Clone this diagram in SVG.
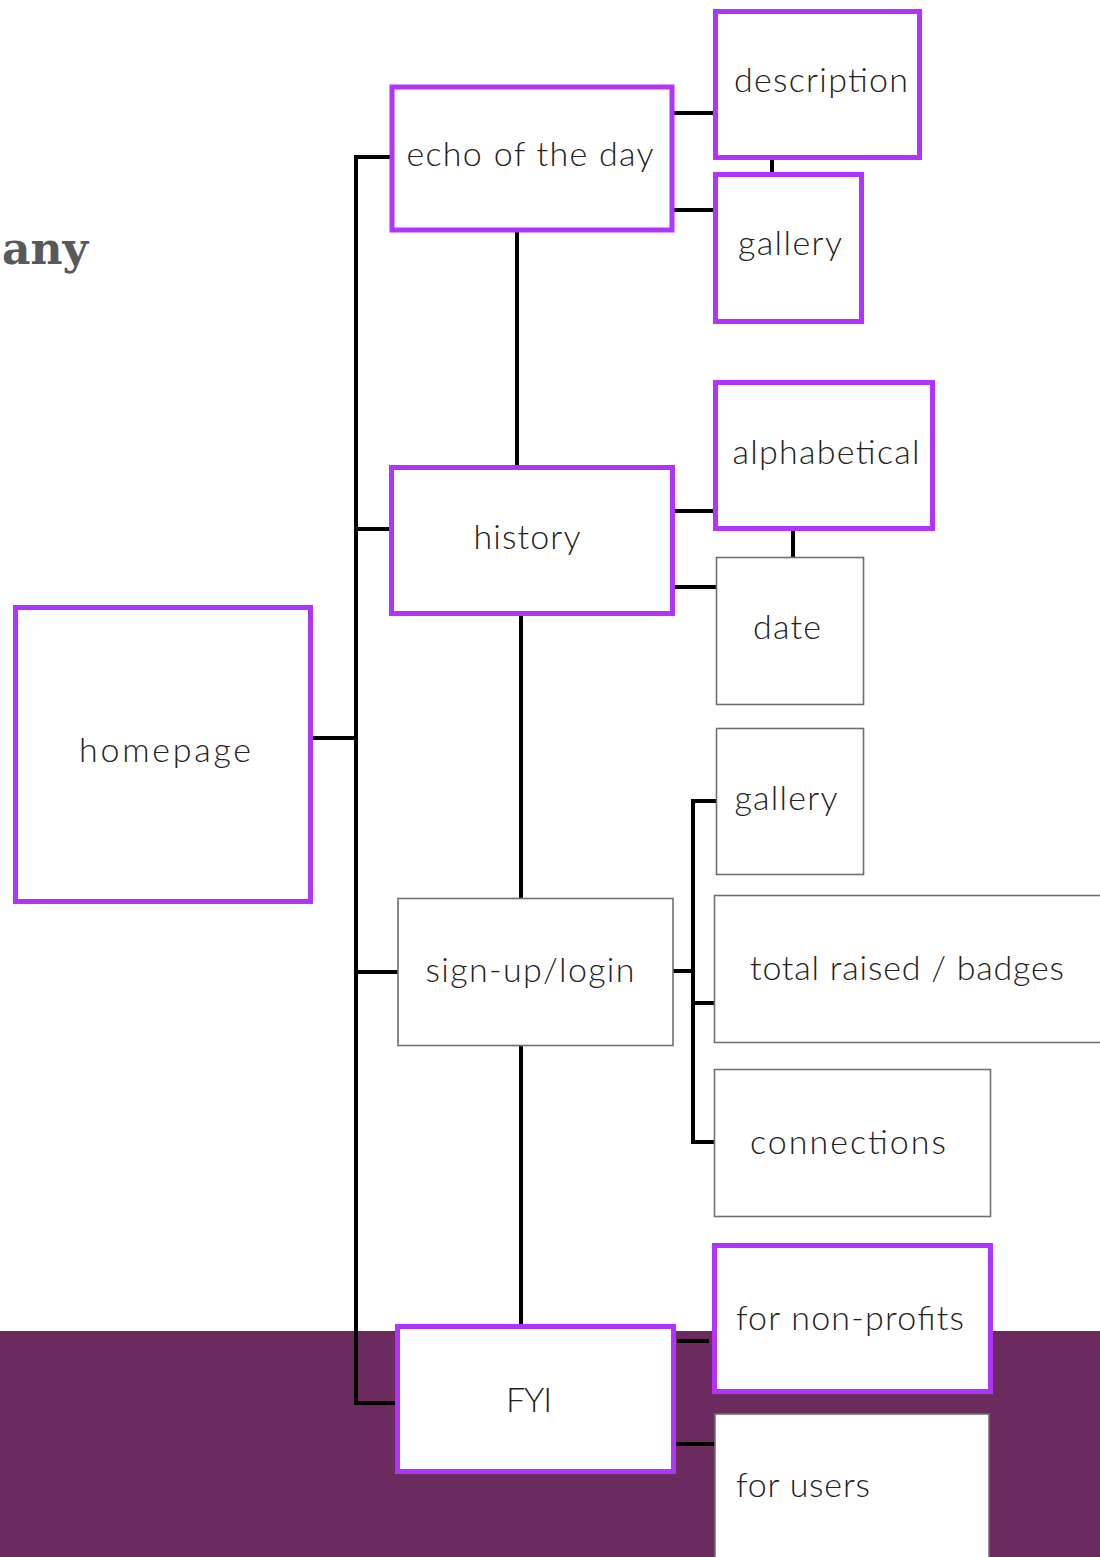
<svg xmlns="http://www.w3.org/2000/svg" width="1100" height="1557" viewBox="0 0 1100 1557">
<style>
.pb{fill:#fff;stroke:#B233FB;stroke-width:5}
.gb{fill:#fff;stroke:#707070;stroke-width:1.6}
.t{font-family:Lato,"Open Sans","Liberation Sans",sans-serif;font-weight:300;font-size:34px;fill:#222;text-anchor:middle}
.c{stroke:#000;stroke-width:4;fill:none}
</style>
<rect x="0" y="0" width="1100" height="1557" fill="#fff"/>
<rect x="0" y="1331" width="1100" height="226" fill="#6B2B5E"/>
<text x="2" y="264" font-family="'DejaVu Serif','Liberation Serif',serif" font-weight="bold" font-size="44" fill="#58595B">any</text>
<g id="connectors">
<path class="c" d="M311 738H356M390 157H356V1403H397M356 529H390M356 972H398"/>
<path class="c" d="M674 113H715M674 210H715M772 158V174"/>
<path class="c" d="M517 232V467M674 511H715M674 587H716M793 529V557"/>
<path class="c" d="M521 614V898"/>
<path class="c" d="M673 971H693M716 801H693V1142H714M693 1003H714"/>
<path class="c" d="M521 1045V1326M677 1341H709M673 1444H715"/>
</g>
<g id="homepage"><rect class="pb" x="15.5" y="607.5" width="295" height="294"/><text class="t" x="165" y="762" textLength="172">homepage</text></g>
<g id="echo"><rect class="pb" x="392" y="87" width="280" height="143"/><text class="t" x="530" y="166" textLength="247">echo of the day</text></g>
<g id="description"><rect class="pb" x="715.5" y="11.5" width="204" height="146"/><text class="t" x="821" y="92" textLength="174">description</text></g>
<g id="gallery1"><rect class="pb" x="715.5" y="174.5" width="146" height="147"/><text class="t" x="790" y="255" textLength="104">gallery</text></g>
<g id="history"><rect class="pb" x="391.5" y="467.5" width="281" height="146"/><text class="t" x="527" y="549" textLength="107">history</text></g>
<g id="alphabetical"><rect class="pb" x="715.5" y="382.5" width="217" height="146"/><text class="t" x="826" y="464" textLength="187">alphabetical</text></g>
<g id="date"><rect class="gb" x="716.5" y="557.5" width="147" height="147"/><text class="t" x="787" y="639" textLength="68">date</text></g>
<g id="gallery2"><rect class="gb" x="716.5" y="728.5" width="147" height="146"/><text class="t" x="786" y="810" textLength="103">gallery</text></g>
<g id="signup"><rect class="gb" x="398" y="898.5" width="275" height="147"/><text class="t" x="530" y="982" textLength="209">sign-up/login</text></g>
<g id="total"><rect class="gb" x="714.5" y="895.5" width="400" height="147"/><text class="t" x="907" y="980" textLength="314">total raised / badges</text></g>
<g id="connections"><rect class="gb" x="714.5" y="1069.5" width="276" height="147"/><text class="t" x="848" y="1154" textLength="196">connections</text></g>
<g id="fyi"><rect class="pb" x="397.5" y="1326.5" width="276" height="145"/><text class="t" x="529" y="1412" textLength="46">FYI</text></g>
<g id="nonprofits"><rect class="pb" x="714.5" y="1245.5" width="276" height="146"/><text class="t" x="850" y="1330" textLength="228">for non-profits</text></g>
<g id="users"><rect class="gb" x="715" y="1414" width="274" height="200"/><text class="t" x="736" y="1497" textLength="134" style="text-anchor:start">for users</text></g>
</svg>
